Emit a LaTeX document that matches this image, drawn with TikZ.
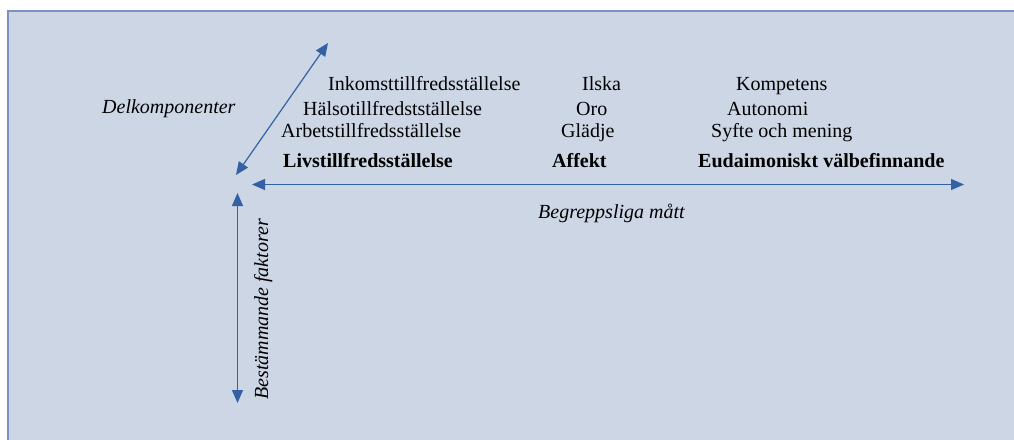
\documentclass[tikz,border=0pt]{standalone}
\usepackage{fontspec}
\setmainfont{Liberation Serif}
\usetikzlibrary{positioning, arrows.meta}
\definecolor{panelfill}{HTML}{CCD6E5}
\definecolor{panelline}{HTML}{7C93C0}
\definecolor{axisblue}{HTML}{3461A3}
\tikzset{
  item/.style={
    anchor=base west,
    inner sep=0pt,
    font=\fontsize{20}{24}\selectfont
  },
  heading/.style={
    item,
    font=\fontsize{20}{24}\selectfont\bfseries
  },
  axislabel/.style={
    inner sep=0pt,
    font=\fontsize{20}{24}\selectfont\itshape
  },
  arrow/.style={
    draw=axisblue,
    line width=1.2pt,
    {Triangle[length=13pt,width=11pt]}-{Triangle[length=13pt,width=11pt]}
  }
}

\begin{document}
\begin{tikzpicture}[x=1pt, y=-1pt]
\useasboundingbox (0,0) rectangle (1014,439);
% panel
\fill[white] (0,0) rectangle (1014,439);
\draw[panelline, fill=panelfill, line width=2pt] (8,11) rectangle (1030,460);

% axis ends
\coordinate (diagtop) at (328,43);
\coordinate (diagbot) at (236,175);
\coordinate (hleft) at (252,184.5);
\coordinate (hright) at (964,184.5);
\coordinate (vtop) at (237.5,193);
\coordinate (vbot) at (237.5,403);

% column 1
\node[item] (inkomst) at (328,90) {Inkomsttillfredsställelse};
\node[item] (halso) at (303,115) {Hälsotillfredstställelse};
\node[item] (arbete) at (281,137) {Arbetstillfredsställelse};
\node[heading] (livs) at (283,167) {Livstillfredsställelse};

% column 2
\node[item] (ilska) at (582,90) {Ilska};
\node[item] (oro) at (576,115) {Oro};
\node[item] (gladje) at (561,137) {Glädje};
\node[heading] (affekt) at (552,167) {Affekt};

% column 3
\node[item] (kompetens) at (736,90) {Kompetens};
\node[item] (autonomi) at (727,115) {Autonomi};
\node[item] (syfte) at (711,137) {Syfte och mening};
\node[heading] (eudaimonisk) at (698,167) {Eudaimoniskt välbefinnande};

% axis labels
\node[axislabel, anchor=base west] (delkomp) at (102,113) {Delkomponenter};
\node[axislabel, anchor=base west] (begrepp) at (538,218) {Begreppsliga mått};
\node[axislabel, rotate=90, anchor=base west] (bestam) at (268,400) {Bestämmande faktorer};

% arrows
\draw [arrow] (diagbot) -- (diagtop);
\draw [arrow] (hleft) -- (hright);
\draw [arrow] (vtop) -- (vbot);

\end{tikzpicture}
\end{document}
